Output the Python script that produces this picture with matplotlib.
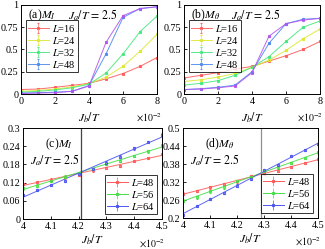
import matplotlib
matplotlib.use("Agg")
import matplotlib.pyplot as plt
import numpy as np

plt.rcParams['font.family'] = ['Liberation Serif', 'DejaVu Serif']
plt.rcParams['mathtext.fontset'] = 'stix'
plt.rcParams['font.size'] = 7

# ---- Data ----
xa = [0, 1, 2, 3, 4, 5, 6, 7, 8]  # J_b/T in units of 1e-2
labels_ab = ['16', '24', '32', '48', '64']
MI_a = {
    '16': [0.05, 0.056, 0.075, 0.097, 0.12, 0.17, 0.23, 0.31, 0.41],
    '24': [0.03, 0.04, 0.055, 0.08, 0.115, 0.19, 0.31, 0.48, 0.67],
    '32': [0.02, 0.03, 0.045, 0.07, 0.11, 0.235, 0.45, 0.70, 0.877],
    '48': [0.01, 0.015, 0.02, 0.03, 0.095, 0.45, 0.86, 0.96, 0.98],
    '64': [0.005, 0.01, 0.015, 0.03, 0.09, 0.58, 0.88, 0.96, 0.98],
}
Mth_b = {
    '16': [0.18, 0.21, 0.24, 0.28, 0.31, 0.37, 0.43, 0.50, 0.59],
    '24': [0.14, 0.16, 0.19, 0.23, 0.30, 0.38, 0.49, 0.62, 0.73],
    '32': [0.10, 0.12, 0.15, 0.21, 0.30, 0.42, 0.59, 0.75, 0.82],
    '48': [0.05, 0.06, 0.075, 0.10, 0.25, 0.57, 0.79, 0.84, 0.85],
    '64': [0.05, 0.055, 0.07, 0.09, 0.24, 0.65, 0.79, 0.83, 0.85],
}
xc = [4.0, 4.05, 4.1, 4.15, 4.2, 4.25, 4.3, 4.35, 4.4, 4.45, 4.5]
labels_cd = ['48', '56', '64']
MI_c = {
    '48': [0.116, 0.122, 0.130, 0.137, 0.146, 0.160, 0.168, 0.175, 0.192, 0.202, 0.214],
    '56': [0.101, 0.110, 0.126, 0.140, 0.151, 0.165, 0.181, 0.192, 0.208, 0.223, 0.243],
    '64': [0.079, 0.096, 0.112, 0.126, 0.148, 0.165, 0.186, 0.206, 0.233, 0.253, 0.278],
}
Mth_d = {
    '48': [0.281, 0.291, 0.302, 0.314, 0.322, 0.339, 0.348, 0.358, 0.370, 0.383, 0.397],
    '56': [0.258, 0.269, 0.289, 0.302, 0.324, 0.337, 0.356, 0.369, 0.383, 0.400, 0.419],
    '64': [0.211, 0.241, 0.264, 0.283, 0.308, 0.330, 0.359, 0.376, 0.406, 0.426, 0.447],
}
vline_c = 4.21
vline_d = 4.29
err = 0.004

colors = {'16': '#ff5a5a', '24': '#dde830', '32': '#45e880', '48': '#4d8af0',
          '64': '#b455f0'}
colors_cd = {'48': '#ff5a5a', '56': '#45e045', '64': '#4d55f0'}

W, H = 325, 249
fig = plt.figure(figsize=(W / 100, H / 100), dpi=100)


def ax_px(l, t, r, b):
    return fig.add_axes([l / W, (H - b) / H, (r - l) / W, (b - t) / H])


def style(ax):
    ax.tick_params(direction='in', length=2, width=0.6, top=False, right=False,
                   labelsize=7.3, pad=2)
    for s in ax.spines.values():
        s.set_linewidth(0.7)


axa = ax_px(21, 5, 157, 94)
axb = ax_px(184, 5, 320, 94)
axc = ax_px(23, 128, 162, 219)
axd = ax_px(183, 128, 318, 218)

for ax, data, tag, offx in [(axa, MI_a, r'(a)$M_I$', 1.04),
                            (axb, Mth_b, r'(b)$M_\theta$', 1.02)]:
    for L in labels_ab:
        lab = r'$L$=' + L if L != '64' else None
        ax.errorbar(xa, data[L], yerr=err, color=colors[L], lw=0.7, marker='s',
                    ms=1.8, mfc='none', mec=colors[L], mew=0.8, capsize=1,
                    elinewidth=0.5, label=lab, alpha=0.9)
    ax.set_xlim(0, 8)
    ax.set_ylim(0, 1)
    ax.set_xticks([0, 2, 4, 6, 8])
    ax.set_yticks([0, 0.25, 0.5, 0.75, 1])
    ax.set_yticklabels(['0', '0.25', '0.5', '0.75', '1'])
    style(ax)
    ax.text(0.05, 0.97, tag, transform=ax.transAxes, ha='left', va='top', fontsize=8.5)
    ax.text(0.345, 0.97, r'$J_a/T\,=\,2.5$', transform=ax.transAxes, ha='left',
            va='top', fontsize=8.5)
    leg = ax.legend(loc='upper left', bbox_to_anchor=(0.02, 0.85), fontsize=7.5,
                    frameon=True, fancybox=False, edgecolor='black',
                    handlelength=2.0, handletextpad=0.3, borderpad=0.2,
                    labelspacing=0.1, borderaxespad=0.2)
    leg.get_frame().set_linewidth(0.7)
    ax.set_xlabel(r'$J_b/T$', fontsize=8.5)
    ax.xaxis.set_label_coords(0.5, -0.18, transform=ax.transAxes)
    ax.xaxis.label.set_va('top')
    ax.text(offx, -0.2, r'$\times10^{-2}$', transform=ax.transAxes, ha='right',
            va='top', fontsize=7)

for ax, data, tag, vl, vc, ylim, yt, ytl in [
        (axc, MI_c, r'(c)$M_I$', vline_c, '#444444', (0, 0.3),
         [0, 0.06, 0.12, 0.18, 0.24, 0.3], ['0', '0.06', '0.12', '0.18', '0.24', '0.3']),
        (axd, Mth_d, r'(d)$M_\theta$', vline_d, '#909090', (0.2, 0.5),
         [0.2, 0.26, 0.32, 0.38, 0.44, 0.5], ['0.2', '0.26', '0.32', '0.38', '0.44', '0.5'])]:
    for L in labels_cd:
        c = colors_cd[L]
        coef = np.polyfit(xc, data[L], 1)
        xx = np.array([xc[0], xc[-1]])
        ax.plot(xx, np.polyval(coef, xx), color=c, lw=0.7, alpha=0.9)
        ax.errorbar(xc, data[L], yerr=err, color=c, lw=0, marker='s', ms=1.8,
                    mfc='none', mec=c, mew=0.8, capsize=1, elinewidth=0.5, alpha=0.9)
        ax.errorbar([], [], yerr=[], color=c, lw=0.7, marker='s', ms=1.8,
                    mfc='none', mec=c, mew=0.8, capsize=1, elinewidth=0.5,
                    label=r'$L$=' + L)
    ax.axvline(vl, color=vc, lw=0.9)
    ax.set_xlim(4, 4.5)
    ax.set_ylim(*ylim)
    ax.set_xticks([4, 4.1, 4.2, 4.3, 4.4, 4.5])
    ax.set_xticklabels(['4', '4.1', '4.2', '4.3', '4.4', '4.5'])
    ax.set_yticks(yt)
    ax.set_yticklabels(ytl)
    style(ax)
    ax.text(0.16, 0.91, tag, transform=ax.transAxes, ha='left', va='top', fontsize=8.5)
    ax.text(0.05, 0.73, r'$J_a/T\,=\,2.5$', transform=ax.transAxes, ha='left',
            va='top', fontsize=8.5)
    leg = ax.legend(loc='lower right', fontsize=7.5, frameon=True, fancybox=False,
                    edgecolor='black', handlelength=2.0, handletextpad=0.3,
                    borderpad=0.2, labelspacing=0.1, borderaxespad=0.5)
    leg.get_frame().set_linewidth(0.7)
    ax.set_xlabel(r'$J_b/T$', fontsize=8.5)
    ax.xaxis.set_label_coords(0.5, -0.15, transform=ax.transAxes)
    ax.xaxis.label.set_va('top')
    ax.text(1.02, -0.2, r'$\times10^{-2}$', transform=ax.transAxes, ha='right',
            va='top', fontsize=7)

fig.savefig('out.png', dpi=100)
